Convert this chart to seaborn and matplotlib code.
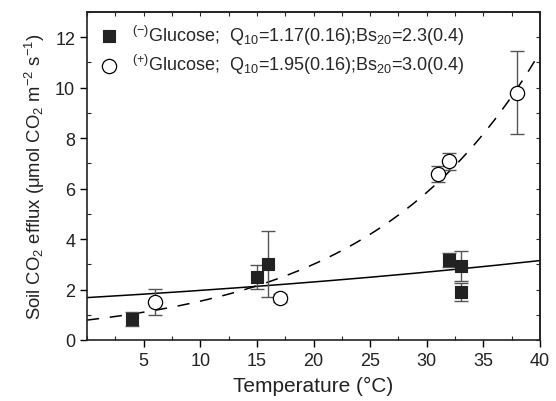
import numpy as np
import pandas as pd
import matplotlib
matplotlib.use("Agg")
import matplotlib.pyplot as plt
import seaborn as sns
from matplotlib.ticker import MultipleLocator

# Data
t_minus = [4, 15, 16, 32, 33, 33]
y_minus = [0.82, 2.5, 3.02, 3.17, 2.93, 1.9]
e_minus = [0.27, 0.47, 1.3, 0.27, 0.6, 0.36]

t_plus = [6, 17, 31, 32, 38]
y_plus = [1.52, 1.67, 6.58, 7.08, 9.8]
e_plus = [0.52, 0.15, 0.3, 0.35, 1.65]

# Fitted model parameters (from legend)
q10_minus, bs20_minus = 1.17, 2.3
q10_plus, bs20_plus = 1.95, 3.0

label_minus = r'$\mathregular{^{(-)}}$Glucose;  Q$\mathregular{_{10}}$=1.17(0.16);Bs$\mathregular{_{20}}$=2.3(0.4)'
label_plus = r'$\mathregular{^{(+)}}$Glucose;  Q$\mathregular{_{10}}$=1.95(0.16);Bs$\mathregular{_{20}}$=3.0(0.4)'

sns.set_style("ticks")
plt.rcParams['font.family'] = ['Liberation Sans', 'DejaVu Sans']
plt.rcParams['mathtext.fontset'] = 'custom'
plt.rcParams['mathtext.rm'] = 'Liberation Sans'
plt.rcParams['mathtext.it'] = 'Liberation Sans'

fig = plt.figure(figsize=(5.56, 4.02), dpi=100)
ax = fig.add_axes([87/556, 1 - 341/402, 453/556, 328/402])

T = np.linspace(0, 40, 200)
curves = pd.DataFrame({
    'T': np.concatenate([T, T]),
    'R': np.concatenate([bs20_minus * q10_minus ** ((T - 20) / 10),
                         bs20_plus * q10_plus ** ((T - 20) / 10)]),
    'g': ['minus'] * len(T) + ['plus'] * len(T),
})
sns.lineplot(data=curves[curves.g == 'minus'], x='T', y='R', color='black', lw=1.1, ax=ax, legend=False)
sns.lineplot(data=curves[curves.g == 'plus'], x='T', y='R', color='black', lw=1.1, ax=ax, legend=False,
             dashes=False, linestyle=(0, (8, 7)))

ax.errorbar(t_minus, y_minus, yerr=e_minus, fmt='none', ecolor='#555555', elinewidth=1.0, capsize=5, capthick=1.0, zorder=2)
ax.errorbar(t_plus, y_plus, yerr=e_plus, fmt='none', ecolor='#555555', elinewidth=1.0, capsize=5, capthick=1.0, zorder=2)

dm = pd.DataFrame({'T': t_minus, 'R': y_minus})
dp = pd.DataFrame({'T': t_plus, 'R': y_plus})
sns.scatterplot(data=dm, x='T', y='R', marker='s', s=72, color='#222222', edgecolor='#222222', linewidth=0.8,
                ax=ax, zorder=3, label=label_minus)
sns.scatterplot(data=dp, x='T', y='R', marker='o', s=105, facecolor='white', edgecolor='black', linewidth=0.9,
                ax=ax, zorder=3, label=label_plus)

ax.set_xlim(0, 40)
ax.set_ylim(0, 13)
ax.xaxis.set_major_locator(MultipleLocator(5))
ax.xaxis.set_minor_locator(MultipleLocator(2.5))
ax.yaxis.set_major_locator(MultipleLocator(2))
ax.yaxis.set_minor_locator(MultipleLocator(1))
ax.set_xticks([5, 10, 15, 20, 25, 30, 35, 40])
ax.tick_params(which='major', direction='out', length=5, width=1, labelsize=13, colors='black')
ax.tick_params(which='minor', direction='in', length=3, width=0.8)
ax.tick_params(axis='both', labelcolor='#222222')

# inward ticks on top and right
axt = ax.secondary_xaxis('top')
axt.xaxis.set_major_locator(MultipleLocator(2.5))
axt.tick_params(direction='in', length=3, width=0.8, labeltop=False)
axr = ax.secondary_yaxis('right')
axr.yaxis.set_major_locator(MultipleLocator(1))
axr.tick_params(direction='in', length=3, width=0.8, labelright=False)

for sp in ax.spines.values():
    sp.set_visible(True)
    sp.set_linewidth(1.2)
    sp.set_color('#222222')
axt.spines['top'].set_linewidth(1.2)
axr.spines['right'].set_linewidth(1.2)

ax.set_xlabel('Temperature (°C)', fontsize=15, color='#222222', labelpad=5)
ax.set_ylabel(r'Soil CO$\mathregular{_2}$ efflux ($\mathregular{\mu}$mol CO$\mathregular{_2}$ m$\mathregular{^{-2}}$ s$\mathregular{^{-1}}$)',
              fontsize=13.3, color='#222222', labelpad=6)

leg = ax.legend(loc='upper left', frameon=False, fontsize=13, handletextpad=0.7, borderaxespad=0.2,
                labelspacing=0.3, handlelength=1.2, borderpad=0.4)

fig.savefig('out.png', dpi=100)
